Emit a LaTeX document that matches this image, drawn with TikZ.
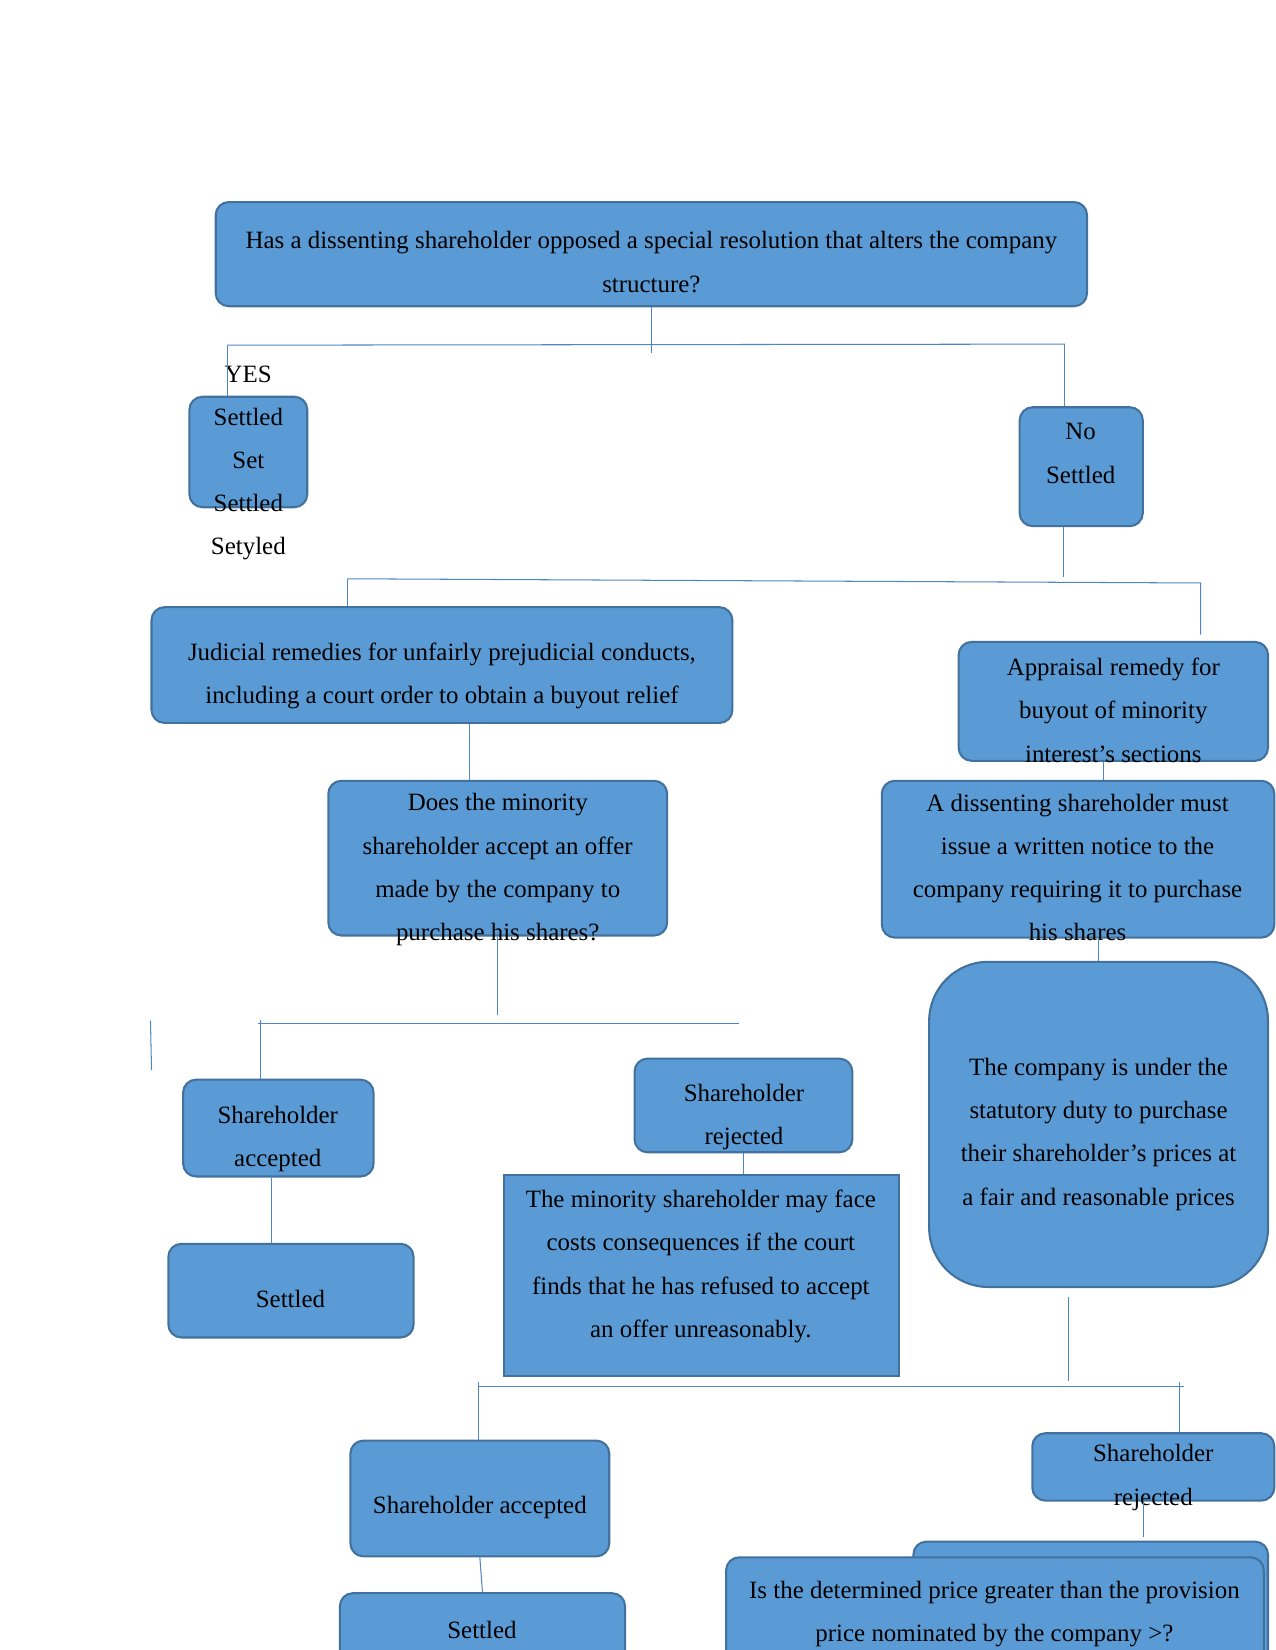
\documentclass[tikz,border=0pt]{standalone}
\usepackage{fontspec}
\setmainfont{Liberation Serif}
\usepackage{tikz}
\usetikzlibrary{positioning,fit}

\definecolor{boxfill}{RGB}{91,155,213}
\definecolor{boxedge}{RGB}{65,113,156}
\definecolor{wirecol}{RGB}{79,134,198}

\tikzset{
  box/.style={draw=boxedge, fill=boxfill, line width=1pt, rounded corners=2.2mm, inner sep=0pt},
  txt/.style={font=\fontsize{12}{20.8}\selectfont, align=center, inner sep=0pt},
  wire/.style={draw=wirecol, line width=0.5pt}
}

\begin{document}
\begin{tikzpicture}[x=0.178135mm, y=-0.178135mm]
    \useasboundingbox (0,0) rectangle (1212,1568);

    % 
    \node[box, fit={(205,192) (1033,291)}] (q0) {};
    \node[box, fit={(180,377) (292,482)}] (yesbox) {};
    \node[box, fit={(969,387) (1086,500)}] (nobox) {};
    \node[box, fit={(144,577) (696,687)}] (jud) {};
    \node[box, fit={(911,610) (1205,723)}] (app) {};
    \node[box, fit={(312,742) (634,889)}] (does) {};
    \node[box, fit={(838,742) (1211,891)}] (dis) {};
    \node[box, rounded corners=10mm, fit={(883,914) (1205,1223)}] (comp) {};
    \node[box, fit={(174,1026) (355,1118)}] (acc) {};
    \node[box, fit={(160,1182) (393,1271)}] (set1) {};
    \node[box, fit={(603,1006) (810,1095)}] (rej) {};
    \node[box, sharp corners, fit={(479,1117) (854,1308)}] (mino) {};
    \node[box, fit={(333,1369) (579,1479)}] (acc2) {};
    \node[box, fit={(323,1514) (594,1590)}] (set2) {};
    \node[box, fit={(981,1362) (1211,1426)}] (rej2) {};
    \node[box, fit={(868,1465) (1205,1590)}] (priceback) {};
    \node[box, fit={(690,1480) (1201,1600)}] (price) {};

    % 
    \node[txt] (q0t) at (619,249) {Has a dissenting shareholder opposed a special resolution that alters the company\\structure?};
    \node[txt, anchor=west] (yest) at (213,356) {YES};
    \node[txt] (yesboxt) at (236,460) {Settled\\Set\\Settled\\Setyled};
    \node[txt] (noboxt) at (1027,431) {No\\Settled};
    \node[txt] (judt) at (420,642) {Judicial remedies for unfairly prejudicial conducts,\\including a court order to obtain a buyout relief};
    \node[txt] (appt) at (1058,675) {Appraisal remedy for\\buyout of minority\\interest’s sections};
    \node[txt] (doest) at (473,826.5) {Does the minority\\shareholder accept an offer\\made by the company to\\purchase his shares?};
    \node[txt] (dist) at (1024,824.5) {A dissenting shareholder must\\issue a written notice to the\\company requiring it to purchase\\his shares};
    \node[txt] (compt) at (1044,1078) {The company is under the\\statutory duty to purchase\\their shareholder’s prices at\\a fair and reasonable prices};
    \node[txt] (acct) at (264,1082) {Shareholder\\accepted};
    \node[txt] (set1t) at (276,1234) {Settled};
    \node[txt] (rejt) at (707,1061.5) {Shareholder\\rejected};
    \node[txt] (minot) at (666,1203.5) {The minority shareholder may face\\costs consequences if the court\\finds that he has refused to accept\\an offer unreasonably.};
    \node[txt] (acc2t) at (456,1433) {Shareholder accepted};
    \node[txt] (set2t) at (458,1549) {Settled};
    \node[txt] (rej2t) at (1096,1404) {Shareholder\\rejected};
    \node[txt] (pricet) at (945,1533.5) {Is the determined price greater than the provision\\price nominated by the company >?};

    % 
    \coordinate (j1l) at (216,328);
    \coordinate (j1r) at (1012,327);
    \draw[wire] (q0.south) -- ([yshift=-4]q0.south |- j1l);
    \draw[wire] (j1l) -- (j1r);
    \draw[wire] (j1l) -- (j1l |- yesbox.north);
    \draw[wire] (j1r) -- (j1r |- nobox.north);

    % 
    \coordinate (j2) at (1011,548);
    \coordinate (j2l) at (330,550);
    \coordinate (j2r) at (1141,554);
    \coordinate (j2e) at (1141,603);
    \draw[wire] (nobox.south -| j2) -- (j2);
    \draw[wire] (j2l) -- (j2r) -- (j2e);
    \draw[wire] (j2l) -- (j2l |- jud.north);

    % 
    \coordinate (k3) at (446,0);
    \coordinate (k4) at (1049,0);
    \draw[wire] (jud.south -| k3) -- (does.north -| k3);
    \draw[wire] (app.south -| k4) -- (dis.north -| k4);
    \draw[wire] (dis.south -| comp.north) -- (comp.north);

    % 
    \coordinate (j5) at (476,965);
    \coordinate (j5l) at (245,973);
    \coordinate (j5r) at (702,973);
    \coordinate (j5t) at (248,969);
    \coordinate (s1) at (143,970);
    \coordinate (s2) at (144,1017);
    \coordinate (k7) at (258,0);
    \draw[wire] (does.south) -- (does.south |- j5);
    \draw[wire] (j5l) -- (j5r);
    \draw[wire] (j5t) -- (j5t |- acc.north);
    \draw[wire] (s1) -- (s2);
    \draw[wire] (acc.south -| k7) -- (set1.north -| k7);
    \draw[wire] (rej.south) -- (rej.south |- mino.north);

    % 
    \coordinate (j9t) at (1015,1233);
    \coordinate (j9) at (1015,1312);
    \coordinate (j9l) at (454,1318);
    \coordinate (j9r) at (1125,1318);
    \coordinate (k9a) at (455,1313);
    \coordinate (k9b) at (1121,1313);
    \coordinate (k11) at (1087,1461);
    \draw[wire] (j9t) -- (j9);
    \draw[wire] (j9l) -- (j9r);
    \draw[wire] (k9a) -- (k9a |- acc2.north);
    \draw[wire] (k9b) -- (k9b |- rej2.north);
    \draw[wire] (acc2.south) -- (set2.north);
    \draw[wire] (rej2.south -| k11) -- (k11);
\end{tikzpicture}
\end{document}
